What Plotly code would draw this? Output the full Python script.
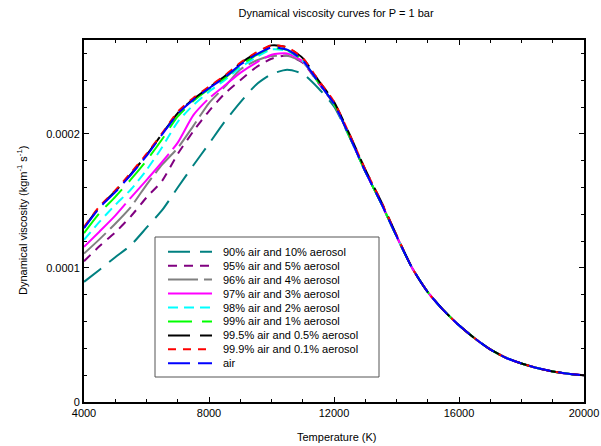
import plotly.graph_objects as go

# Temperature grid (K)
temperature = [4000, 4500, 5000, 5500, 6000, 6500, 7000, 7500, 8000, 8500,
               9000, 9500, 10000, 10500, 11000, 11500, 12000, 12500, 13000, 13500,
               14000, 14500, 15000, 15500, 16000, 16500, 17000, 17500, 18000, 18500,
               19000, 19500, 20000]

# Dynamical viscosity values, in units of 1e-4 kg m^-1 s^-1
visc_90 = [0.896, 0.987, 1.08, 1.17, 1.30, 1.431, 1.60, 1.766, 1.926, 2.09,
           2.235, 2.365, 2.445, 2.478, 2.448, 2.34, 2.205, 1.975, 1.72, 1.487,
           1.237, 1.00, 0.82, 0.685, 0.572, 0.475, 0.392, 0.33, 0.287, 0.253,
           0.228, 0.21, 0.199]
visc_95 = [1.05, 1.163, 1.265, 1.385, 1.525, 1.65, 1.85, 2.02, 2.17, 2.30,
           2.40, 2.495, 2.56, 2.585, 2.53, 2.38, 2.222, 1.98, 1.72, 1.487,
           1.237, 1.00, 0.82, 0.685, 0.572, 0.475, 0.392, 0.33, 0.287, 0.253,
           0.228, 0.21, 0.199]
visc_96 = [1.107, 1.215, 1.33, 1.455, 1.62, 1.77, 1.895, 2.06, 2.23, 2.35,
           2.48, 2.545, 2.58, 2.582, 2.535, 2.383, 2.224, 1.98, 1.72, 1.487,
           1.237, 1.00, 0.82, 0.685, 0.572, 0.475, 0.392, 0.33, 0.287, 0.253,
           0.228, 0.21, 0.199]
visc_97 = [1.157, 1.272, 1.39, 1.525, 1.655, 1.79, 1.935, 2.14, 2.265, 2.36,
           2.455, 2.53, 2.59, 2.60, 2.54, 2.384, 2.225, 1.98, 1.72, 1.487,
           1.237, 1.00, 0.82, 0.685, 0.572, 0.475, 0.392, 0.33, 0.287, 0.253,
           0.228, 0.21, 0.199]
visc_98 = [1.21, 1.345, 1.47, 1.585, 1.73, 1.90, 2.09, 2.215, 2.315, 2.40,
           2.495, 2.57, 2.63, 2.62, 2.545, 2.385, 2.225, 1.98, 1.72, 1.487,
           1.237, 1.00, 0.82, 0.685, 0.572, 0.475, 0.392, 0.33, 0.287, 0.253,
           0.228, 0.21, 0.199]
visc_99 = [1.26, 1.41, 1.53, 1.66, 1.80, 1.96, 2.13, 2.245, 2.335, 2.415,
           2.51, 2.585, 2.64, 2.625, 2.548, 2.385, 2.225, 1.98, 1.72, 1.487,
           1.237, 1.00, 0.82, 0.685, 0.572, 0.475, 0.392, 0.33, 0.287, 0.253,
           0.228, 0.21, 0.199]
visc_995 = [1.30, 1.455, 1.572, 1.70, 1.842, 2.00, 2.155, 2.26, 2.345, 2.43,
            2.525, 2.60, 2.66, 2.645, 2.565, 2.40, 2.24, 1.995, 1.735, 1.50,
            1.245, 1.00, 0.82, 0.685, 0.572, 0.475, 0.392, 0.33, 0.287, 0.253,
            0.228, 0.21, 0.199]
visc_999 = [1.305, 1.46, 1.578, 1.71, 1.85, 2.005, 2.165, 2.268, 2.352, 2.435,
            2.53, 2.605, 2.66, 2.645, 2.565, 2.40, 2.24, 1.995, 1.735, 1.50,
            1.245, 1.00, 0.82, 0.685, 0.572, 0.475, 0.392, 0.33, 0.287, 0.253,
            0.228, 0.21, 0.199]
visc_air = [1.296, 1.45, 1.565, 1.695, 1.835, 1.995, 2.15, 2.255, 2.34, 2.42,
            2.515, 2.59, 2.645, 2.628, 2.548, 2.385, 2.225, 1.98, 1.72, 1.487,
            1.237, 1.00, 0.82, 0.685, 0.572, 0.475, 0.392, 0.33, 0.287, 0.253,
            0.228, 0.21, 0.199]
UNIT = 1e-4

series_names = ["90% air and 10% aerosol", "95% air and 5% aerosol",
                "96% air and 4% aerosol", "97% air and 3% aerosol",
                "98% air and 2% aerosol", "99% air and 1% aerosol",
                "99.5% air and 0.5% aerosol", "99.9% air and 0.1% aerosol", "air"]
series_values = [visc_90, visc_95, visc_96, visc_97, visc_98, visc_99,
                 visc_995, visc_999, visc_air]
series_colors = ["#008080", "#800080", "#808080", "#ff00ff", "#00ffff",
                 "#00ff00", "#000000", "#ff0000", "#0000ff"]
series_dashes = ["22px,10px", "9px,7px", "30px,6px", "60px,6px", "10px,6px",
                 "24px,10px", "22px,10px", "8px,7px", "22px,8px"]

x_tickvals = [4000, 8000, 12000, 16000, 20000]
x_ticktext = ["4000", "8000", "12000", "16000", "20000"]
y_tickvals = [0, 0.0001, 0.0002]
y_ticktext = ["0", "0.0001", "0.0002"]

FONT = "Liberation Sans, Arial, sans-serif"

# figure / plot area geometry (window pixels)
W, H = 601, 446
L, T = 84, 40
R = W - 584
B = H - 402
PW, PH = W - L - R, H - T - B


def px_x(px):
    return (px - L) / PW


def px_y(py):
    return (H - B - py) / PH


fig = go.Figure()
for name, vals, col, dash in zip(series_names, series_values, series_colors, series_dashes):
    fig.add_trace(go.Scatter(
        x=temperature, y=[v * UNIT for v in vals], mode="lines", name=name,
        line=dict(color=col, width=2, dash=dash, shape="spline", smoothing=0.6),
        showlegend=False,
    ))

# custom legend (box, line samples, labels)
shapes = [dict(type="rect", xref="paper", yref="paper",
               x0=px_x(155), x1=px_x(379), y0=px_y(377), y1=px_y(237),
               line=dict(color="#555555", width=1), fillcolor="white", layer="above")]
annotations = []
for i, (name, col, dash) in enumerate(zip(series_names, series_colors, series_dashes)):
    yc = px_y(251.7 + 13.95 * i)
    shapes.append(dict(type="line", xref="paper", yref="paper",
                       x0=px_x(168), x1=px_x(212), y0=yc, y1=yc,
                       line=dict(color=col, width=2, dash=dash), layer="above"))
    annotations.append(dict(text=name, xref="paper", yref="paper", x=px_x(221), y=yc,
                            xanchor="left", yanchor="middle", showarrow=False,
                            font=dict(size=11, family=FONT, color="black")))

# axis titles
annotations.append(dict(text="Temperature (K)", xref="paper", yref="paper",
                        x=px_x(336), y=px_y(437), xanchor="center", yanchor="middle",
                        showarrow=False, font=dict(size=11, family=FONT, color="black")))
annotations.append(dict(text="Dynamical viscosity (kgm<sup>-1</sup> s<sup>-1</sup>)",
                        xref="paper", yref="paper", x=px_x(22), y=px_y(221), textangle=-90,
                        xanchor="center", yanchor="middle", showarrow=False,
                        font=dict(size=11, family=FONT, color="black")))

fig.update_layout(
    width=W, height=H,
    margin=dict(l=L, r=R, t=T, b=B),
    paper_bgcolor="white", plot_bgcolor="white",
    font=dict(family=FONT, size=11, color="black"),
    title=dict(text="Dynamical viscosity curves for P = 1 bar",
               x=px_x(336), xref="paper", xanchor="center",
               y=1 - 13 / H, yanchor="middle",
               font=dict(size=11, family=FONT, color="black")),
    showlegend=False,
    shapes=shapes,
    annotations=annotations,
)
fig.update_xaxes(
    range=[4000, 20000], tickvals=x_tickvals, ticktext=x_ticktext,
    ticks="inside", ticklen=5, tickcolor="black", tickwidth=1,
    minor=dict(dtick=1000, ticks="inside", ticklen=3, tickcolor="black", showgrid=False),
    showline=True, linecolor="black", linewidth=2, mirror="allticks",
    showgrid=False, zeroline=False, automargin=False,
)
fig.update_yaxes(
    range=[0, 0.00027], tickvals=y_tickvals, ticktext=y_ticktext,
    ticks="inside", ticklen=5, tickcolor="black", tickwidth=1,
    minor=dict(dtick=0.00002, ticks="inside", ticklen=3, tickcolor="black", showgrid=False),
    showline=True, linecolor="black", linewidth=2, mirror="allticks",
    showgrid=False, zeroline=False, automargin=False,
)

# remove the default page margin so the 601x446 figure fills the window exactly
fig.write_html("out.html",
               config={"displayModeBar": False},
               post_script="document.body.style.margin='0';document.body.style.overflow='hidden';")
